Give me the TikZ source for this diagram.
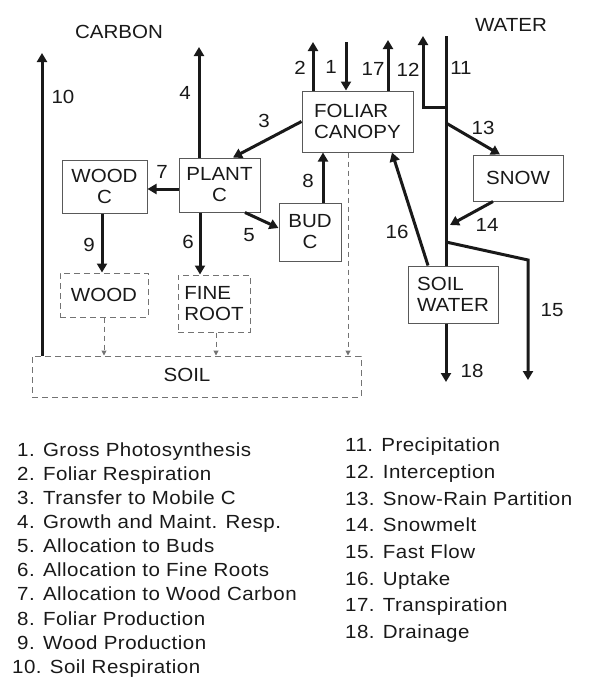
\documentclass[tikz,border=0pt]{standalone}
\usepackage{fontspec}
\setmainfont{Liberation Sans}[FakeStretch=1.08]
\newfontfamily\legfont{Liberation Sans}[FakeStretch=1.08,LetterSpace=2.5]
\usetikzlibrary{arrows.meta}
\begin{document}
\begin{tikzpicture}[x=1pt,y=-1pt,
  txt/.style={font=\fontsize{19}{21}\selectfont, text=black!90, inner sep=0pt},
  cbox/.style={txt, draw=black!65, line width=1pt},
  dbox/.style={txt, draw=black!55, line width=1pt, dash pattern=on 6pt off 4pt},
  flow/.style={line width=3pt, draw=black!90, -{Triangle[length=9pt,width=10pt]}},
  plain/.style={line width=3pt, draw=black!90},
  dflow/.style={line width=1pt, draw=black!55, dash pattern=on 5pt off 4pt, -{Triangle[length=5pt,width=5pt]}},
  leg/.style={font={\legfont\fontsize{19}{21}\selectfont}, text=black!90, inner sep=0pt, anchor=base west}]
\useasboundingbox (0,0) rectangle (589,683);

% titles
\node[txt] (carbon) at (119,32) {CARBON};
\node[txt] (water) at (511,25) {WATER};

% boxes
\node[cbox, minimum width=111pt, minimum height=61pt, align=left] (foliar) at (357.5,121.5) {FOLIAR\\CANOPY};
\node[cbox, minimum width=81pt, minimum height=54pt, align=center] (plant) at (219.5,185) {PLANT\\C};
\node[cbox, minimum width=85pt, minimum height=53pt, align=center] (woodc) at (104.5,186.5) {WOOD\\C};
\node[cbox, minimum width=62pt, minimum height=58pt, align=center] (bud) at (310,232) {BUD\\C};
\node[cbox, minimum width=90pt, minimum height=46pt] (snow) at (518,178) {SNOW};
\node[cbox, minimum width=90pt, minimum height=57pt, align=left] (soilw) at (453,294.5) {SOIL\\WATER};
\node[dbox, minimum width=88pt, minimum height=44pt] (wood) at (104,295) {WOOD};
\node[dbox, minimum width=72pt, minimum height=57pt, align=left] (fine) at (214,303.5) {FINE\\ROOT};
\node[dbox, minimum width=329pt, minimum height=41pt] (soil) at (196.5,376.5) {};
\node[txt] (soillab) at (187,375) {SOIL};

% free ends
\coordinate (t10) at (42,53);
\coordinate (t4) at (199,47);
\coordinate (t2) at (313,42);
\coordinate (s1) at (346,42);
\coordinate (t17) at (388,40);
\coordinate (top11) at (446,36);
\coordinate (j12) at (446,107);
\coordinate (t12) at (423,36);
\coordinate (j13) at (446,123);
\coordinate (t14) at (450,225);
\coordinate (j15) at (446,242);
\coordinate (k15) at (528,260);
\coordinate (t15) at (528,380);
\coordinate (t18) at (446,382);
\coordinate (p9) at ([xshift=-2.5pt]woodc.south);
\coordinate (p6) at ([xshift=-19.5pt]plant.south);
\coordinate (p8) at ([xshift=13pt]bud.north);
\coordinate (p0) at ([xshift=-9.5pt]foliar.south);
\coordinate (pf) at ([xshift=2pt]fine.south);

% carbon flows
\draw[flow] (soil.north -| t10) -- (t10);
\draw[flow] (plant.north -| t4) -- (t4);
\draw[flow] (foliar.west) -- ([xshift=13.5pt]plant.north);
\draw[flow] (foliar.north -| t2) -- (t2);
\draw[flow] (s1) -- (foliar.north -| s1);
\draw[flow] (foliar.north -| t17) -- (t17);
\draw[flow] ([yshift=-4pt]plant.west) -- ([yshift=-2.5pt]woodc.east);
\draw[flow] (p9) -- (p9 |- wood.north);
\draw[flow] (p6) -- (p6 |- fine.north);
\draw[flow] ([xshift=25.5pt]plant.south) -- ([yshift=4pt]bud.west);
\draw[flow] (p8) -- (p8 |- foliar.south);
\draw[dflow] (p0) -- (p0 |- soil.north);
\draw[dflow] (wood.south) -- (wood.south |- soil.north);
\draw[dflow] (pf) -- (pf |- soil.north);

% water flows
\draw[plain] (top11) -- (soilw.north -| top11);
\draw[flow] (j12) -| (t12);
\draw[flow] (j13) -- ([xshift=-18pt]snow.north);
\draw[flow] ([xshift=-25pt]snow.south) -- (t14);
\draw[flow, line join=miter] (j15) -- (k15) -- (t15);
\draw[flow] ([xshift=-25pt]soilw.north) -- ([xshift=34.5pt]foliar.south);
\draw[flow] (soilw.south -| t18) -- (t18);

% flow numbers
\node[txt] (l1) at (331,67) {1};
\node[txt] (l2) at (300,68) {2};
\node[txt] (l3) at (264,121) {3};
\node[txt] (l4) at (185,93) {4};
\node[txt] (l5) at (249,235) {5};
\node[txt] (l6) at (188,242) {6};
\node[txt] (l7) at (162,172) {7};
\node[txt] (l8) at (308,181) {8};
\node[txt] (l9) at (89,245) {9};
\node[txt] (l10) at (63,97) {10};
\node[txt] (l11) at (461,68) {11};
\node[txt] (l12) at (408,70) {12};
\node[txt] (l13) at (483,128) {13};
\node[txt] (l14) at (487,225) {14};
\node[txt] (l15) at (552,310) {15};
\node[txt] (l16) at (397,232) {16};
\node[txt] (l17) at (373,69) {17};
\node[txt] (l18) at (472,371) {18};

% legend
\node[leg] (g1) at (17,456.5) {1. Gross Photosynthesis};
\node[leg] (g2) at (17,480.6) {2. Foliar Respiration};
\node[leg] (g3) at (17,504.6) {3. Transfer to Mobile C};
\node[leg] (g4) at (17,528.7) {4. Growth and Maint. Resp.};
\node[leg] (g5) at (17,552.8) {5. Allocation to Buds};
\node[leg] (g6) at (17,576.9) {6. Allocation to Fine Roots};
\node[leg] (g7) at (17,600.9) {7. Allocation to Wood Carbon};
\node[leg] (g8) at (17,625.0) {8. Foliar Production};
\node[leg] (g9) at (17,649.1) {9. Wood Production};
\node[leg] (g10) at (12,673.2) {10. Soil Respiration};
\node[leg] (g11) at (345,451.7) {11. Precipitation};
\node[leg] (g12) at (345,478.4) {12. Interception};
\node[leg] (g13) at (345,505.0) {13. Snow-Rain Partition};
\node[leg] (g14) at (345,531.7) {14. Snowmelt};
\node[leg] (g15) at (345,558.3) {15. Fast Flow};
\node[leg] (g16) at (345,585.0) {16. Uptake};
\node[leg] (g17) at (345,611.7) {17. Transpiration};
\node[leg] (g18) at (345,638.3) {18. Drainage};
\end{tikzpicture}
\end{document}
